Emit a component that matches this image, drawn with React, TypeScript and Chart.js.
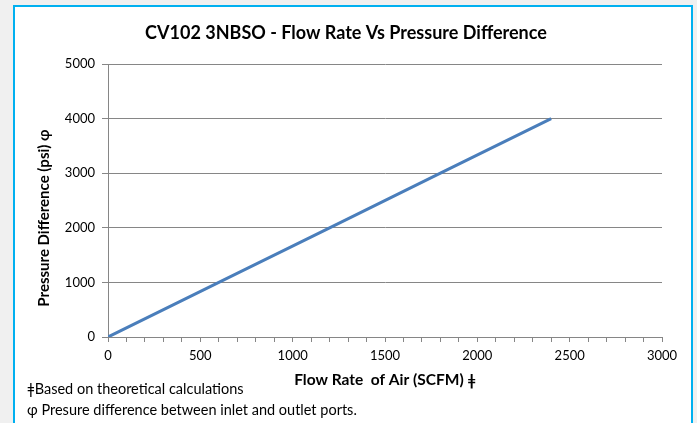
import React, { useEffect, useRef } from "react";
import { Chart, registerables } from "chart.js";

Chart.register(...registerables);

const chartTitle = "CV102 3NBSO - Flow Rate Vs Pressure Difference";
const xTitle = "Flow Rate  of Air (SCFM) ǂ";
const yTitle = "Pressure Difference (psi) ɸ";
const footnotes = [
  "ǂBased on theoretical calculations",
  "ɸ Presure difference between inlet and outlet ports.",
];
const flowRate = [0, 600, 1200, 1800, 2400];
const pressureDiff = [0, 1000, 2000, 3000, 4000];
const xMax = 3000;
const yMax = 5000;

const FONT = "Lato, 'Open Sans', sans-serif";
const GRID = "#868686";

const yTitlePlugin = {
  id: "yTitlePlugin",
  afterDraw(chart: any) {
    const { ctx } = chart;
    ctx.save();
    ctx.font = `bold 15px ${FONT}`;
    ctx.fillStyle = "#000";
    ctx.textAlign = "center";
    ctx.textBaseline = "middle";
    ctx.translate(44, 218);
    ctx.rotate(-Math.PI / 2);
    ctx.fillText(yTitle, 0, 0);
    ctx.restore();
  },
};

export default function App() {
  const ref = useRef<HTMLCanvasElement | null>(null);

  useEffect(() => {
    if (!ref.current) return;
    const chart = new Chart(ref.current, {
      type: "scatter",
      data: {
        datasets: [
          {
            data: flowRate.map((x, i) => ({ x, y: pressureDiff[i] })),
            showLine: true,
            borderColor: "#4a7ebb",
            borderWidth: 3,
            pointRadius: 0,
            fill: false,
          },
        ],
      },
      options: {
        animation: false,
        responsive: false,
        layout: { padding: { left: 30, right: 35, top: 0, bottom: 31 } },
        plugins: {
          legend: { display: false },
          tooltip: { enabled: false },
          title: {
            display: true,
            text: chartTitle,
            color: "#000",
            font: { family: FONT, size: 18, weight: "bold" },
            padding: { top: 22.2, bottom: 20.2 },
          },
        },
        scales: {
          x: {
            type: "linear",
            min: 0,
            max: xMax,
            afterFit(scale: any) {
              scale.height = 55;
            },
            ticks: {
              stepSize: 100,
              autoSkip: false,
              maxRotation: 0,
              padding: 6,
              color: "#000",
              font: { family: FONT, size: 13 },
              callback: (v: any) => (Number(v) % 500 === 0 ? String(v) : ""),
            },
            grid: {
              drawOnChartArea: false,
              drawTicks: true,
              tickLength: 5,
              color: GRID,
            },
            border: { color: GRID, width: 1 },
            title: {
              display: true,
              text: xTitle,
              color: "#000",
              font: { family: FONT, size: 15.5, weight: "bold" },
              padding: { top: 0, bottom: 2.7 },
            },
          },
          y: {
            type: "linear",
            min: 0,
            max: yMax,
            afterFit(scale: any) {
              scale.width = 78;
            },
            ticks: {
              stepSize: 1000,
              padding: 7,
              color: "#000",
              font: { family: FONT, size: 13 },
              callback: (v: any) => String(v),
            },
            grid: {
              color: GRID,
              tickLength: 6,
            },
            border: { color: GRID, width: 1 },
          },
        },
      },
      plugins: [yTitlePlugin],
    } as any);
    return () => chart.destroy();
  }, []);

  return (
    <div
      style={{
        position: "fixed",
        left: 0,
        top: 0,
        width: 697,
        height: 423,
        background: "#f0f0f0",
        overflow: "hidden",
        fontFamily: FONT,
      }}
    >
      <div
        style={{
          position: "absolute",
          left: 13,
          top: 5,
          width: 676,
          height: 440,
          background: "#fff",
          border: "2px solid #00b0f0",
        }}
      />
      <canvas
        ref={ref}
        width={697}
        height={423}
        style={{ position: "absolute", left: 0, top: 0, width: 697, height: 423 }}
      />
      {footnotes.map((t, i) => (
        <div
          key={i}
          style={{
            position: "absolute",
            left: 27,
            top: 380 + i * 21,
            fontSize: 14.5,
            lineHeight: "17px",
            color: "#000",
            whiteSpace: "nowrap",
          }}
        >
          {t}
        </div>
      ))}
    </div>
  );
}
